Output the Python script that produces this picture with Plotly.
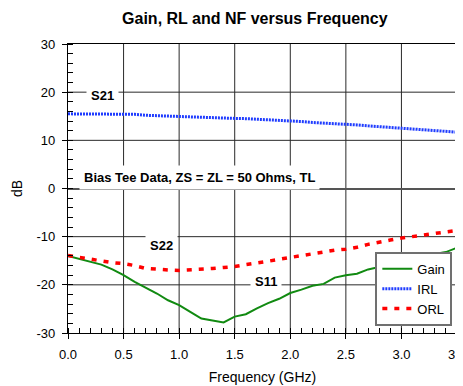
import plotly.graph_objects as go

freq = [round(0.1 * i, 1) for i in range(36)]

gain = [-14.0, -14.6, -15.3, -15.8, -16.8, -18.0, -19.4, -20.6, -21.8, -23.2,
        -24.2, -25.6, -27.0, -27.4, -27.8, -26.6, -26.1, -24.9, -23.8, -22.9,
        -21.7, -21.0, -20.2, -19.8, -18.5, -18.0, -17.7, -16.8, -16.3, -15.6,
        -15.1, -14.6, -14.0, -13.6, -13.2, -12.3]

irl = [15.5, 15.5, 15.45, 15.4, 15.4, 15.4, 15.4, 15.2, 15.1, 15.0,
       14.95, 14.9, 14.85, 14.7, 14.6, 14.55, 14.5, 14.4, 14.25, 14.1,
       14.0, 13.9, 13.7, 13.6, 13.5, 13.35, 13.2, 13.0, 12.85, 12.7,
       12.5, 12.4, 12.2, 12.0, 11.85, 11.7]

orl = [-13.9, -14.3, -14.6, -15.1, -15.4, -15.6, -16.0, -16.6, -16.8, -16.9,
       -17.0, -16.9, -16.8, -16.6, -16.4, -16.2, -15.8, -15.5, -15.1, -14.7,
       -14.3, -13.9, -13.5, -13.1, -12.8, -12.6, -12.2, -11.6, -11.1, -10.7,
       -10.3, -10.0, -9.7, -9.3, -9.0, -8.7]

x_ticks = [0.0, 0.5, 1.0, 1.5, 2.0, 2.5, 3.0, 3.5]
y_ticks = [-30, -20, -10, 0, 10, 20, 30]

notes = [
    ("S21", 0.31, 19.4),
    ("Bias Tee Data, ZS = ZL = 50 Ohms, TL", 1.18, 2.2),
    ("S22", 0.84, -11.8),
    ("S11", 1.78, -19.4),
]

FONT = "Liberation Sans, Arial, sans-serif"
GRID = "#2a2a2a"

fig = go.Figure()
fig.add_trace(go.Scatter(x=freq, y=gain, name="Gain", mode="lines",
                         line=dict(color="#118a11", width=2)))
fig.add_trace(go.Scatter(x=freq, y=irl, name="IRL", mode="lines",
                         line=dict(color="#1f3cff", width=3, dash="2px,1px")))
fig.add_trace(go.Scatter(x=freq, y=orl, name="ORL", mode="lines",
                         line=dict(color="#ff0000", width=3.5, dash="5px,7px")))

# grid lines at the tick values (drawn below the traces)
for v in x_ticks[1:-1]:
    fig.add_shape(type="line", xref="x", yref="paper", x0=v, x1=v, y0=0, y1=1,
                  line=dict(color=GRID, width=1), layer="below")
for v in y_ticks[1:-1]:
    if v == 0:
        continue
    fig.add_shape(type="line", xref="paper", yref="y", x0=0, x1=1, y0=v, y1=v,
                  line=dict(color=GRID, width=1), layer="below")

for txt, xv, yv in notes:
    fig.add_annotation(x=xv, y=yv, xref="x", yref="y", text=txt, showarrow=False,
                       font=dict(family=FONT, size=13, color="black", weight="bold"),
                       bgcolor="white", borderpad=4)

# page has an 8px body margin; margins below are in figure coordinates
fig.update_layout(
    width=463, height=386,
    margin=dict(l=60, r=14, t=36, b=61, autoexpand=False),
    paper_bgcolor="white", plot_bgcolor="white",
    font=dict(family=FONT, color="black"),
    title=dict(text="<b>Gain, RL and NF versus Frequency</b>",
               x=(255 - 68) / 389.3, xref="paper", xanchor="center",
               y=1 - 10 / 386, yref="container", yanchor="middle",
               font=dict(family=FONT, size=16, color="black")),
    showlegend=True,
    legend=dict(x=0.988, y=0.025, xanchor="right", yanchor="bottom",
                bgcolor="white", bordercolor="#707070", borderwidth=2,
                font=dict(family=FONT, size=13, color="black"),
                tracegroupgap=0),
)

fig.update_xaxes(
    range=[0, 3.5], tickvals=x_ticks, ticktext=[f"{v:.1f}" for v in x_ticks],
    showgrid=False,
    showline=True, linecolor="black", linewidth=1.3, mirror=True,
    ticks="outside", ticklen=5, tickcolor="black", tickwidth=1,
    minor=dict(dtick=0.1, tick0=0, ticks="inside", ticklen=5, tickcolor="black", tickwidth=1),
    tickfont=dict(family=FONT, size=13, color="black"),
    title=dict(text="Frequency (GHz)", font=dict(family=FONT, size=14, color="black"), standoff=11),
    zeroline=False, automargin=False, ticklabelstandoff=4,
)
fig.update_yaxes(
    range=[-30, 30], tickvals=y_ticks, ticktext=[str(v) for v in y_ticks],
    showgrid=False,
    showline=True, linecolor="black", linewidth=1.3, mirror=True,
    ticks="outside", ticklen=5, tickcolor="black", tickwidth=1,
    minor=dict(dtick=2, tick0=0, ticks="inside", ticklen=5, tickcolor="black", tickwidth=1),
    tickfont=dict(family=FONT, size=13, color="black"),
    title=dict(text="dB", font=dict(family=FONT, size=14, color="black"), standoff=10),
    zeroline=True, zerolinecolor="#555555", zerolinewidth=1.5, ticklabelstandoff=4,
    automargin=False,
)

fig.write_html("out.html")
